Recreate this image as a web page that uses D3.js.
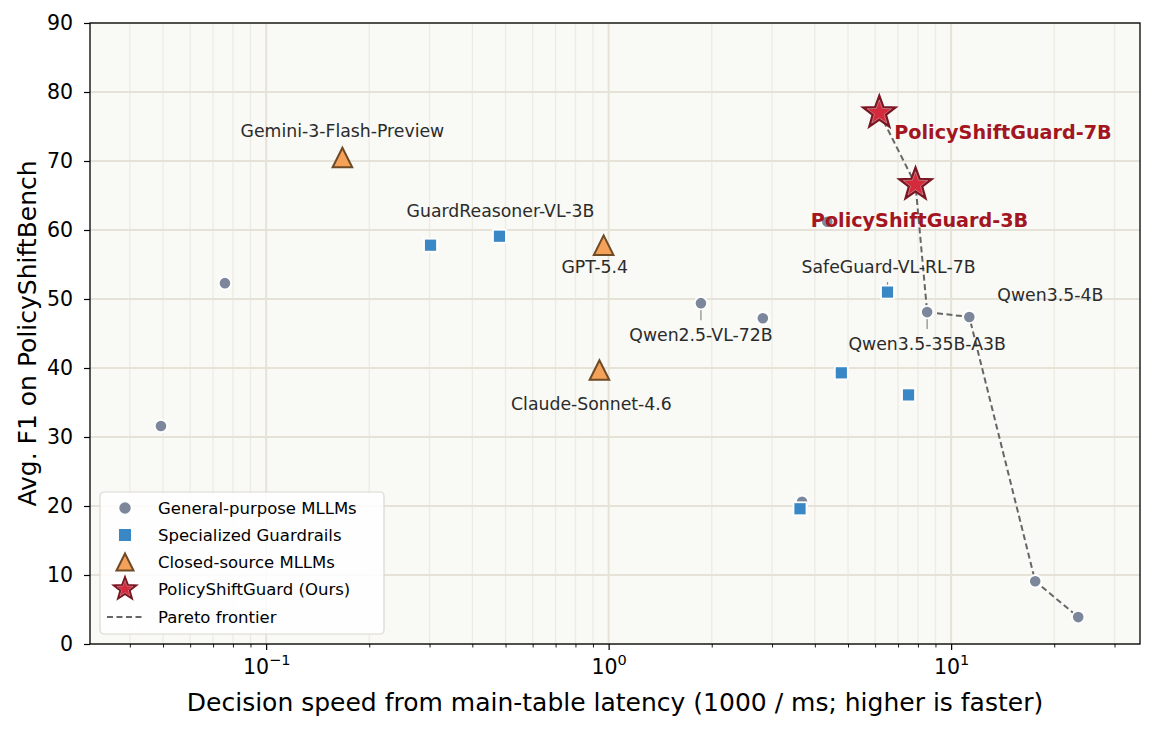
<!DOCTYPE html>
<html>
<head>
<meta charset="utf-8">
<script src="https://cdn.jsdelivr.net/npm/d3@7"></script>
<style>
  html, body { margin: 0; padding: 0; background: #ffffff; }
  svg { display: block; font-family: "DejaVu Sans", sans-serif; }
</style>
</head>
<body>
<svg id="chart" width="1158" height="729"></svg>
<script>
// ---------------- DATA ----------------
const generalNames = ["", "", "Qwen2.5-VL-72B", "", "", "", "Qwen3.5-35B-A3B", "Qwen3.5-4B", "", ""];
const generalSpeed = [0.0493, 0.0758, 1.86, 2.82, 4.35, 3.67, 8.51, 11.3, 17.6, 23.5];
const generalF1    = [31.6, 52.3, 49.4, 47.2, 61.2, 20.6, 48.1, 47.4, 9.1, 3.9];

const guardNames = ["", "GuardReasoner-VL-3B", "SafeGuard-VL-RL-7B", "", "", ""];
const guardSpeed = [0.302, 0.48, 6.52, 4.78, 7.51, 3.62];
const guardF1    = [57.8, 59.1, 51.0, 39.3, 36.1, 19.6];

const closedNames = ["Gemini-3-Flash-Preview", "GPT-5.4", "Claude-Sonnet-4.6"];
const closedSpeed = [0.167, 0.967, 0.94];
const closedF1    = [70.5, 57.8, 39.7];

const oursNames = ["PolicyShiftGuard-7B", "PolicyShiftGuard-3B"];
const oursSpeed = [6.17, 7.87];
const oursF1    = [77.0, 66.6];

const paretoSpeed = [6.17, 7.87, 8.51, 11.3, 17.6, 23.5];
const paretoF1    = [77.0, 66.6, 48.1, 47.4, 9.1, 3.9];

const yTicks = [0, 10, 20, 30, 40, 50, 60, 70, 80, 90];
const xMajorTicks = [0.1, 1, 10];
const xMajorExp = ["\u22121", "0", "1"];
const xDomain = [0.0306, 35.6];
const yDomain = [0, 90];

const legendLabels = ["General-purpose MLLMs", "Specialized Guardrails", "Closed-source MLLMs", "PolicyShiftGuard (Ours)", "Pareto frontier"];

// ---------------- LAYOUT ----------------
const W = 1158, H = 729;
const M = { left: 90, right: 1140, top: 23, bottom: 644 };

const svg = d3.select("#chart");
const x = d3.scaleLog().domain(xDomain).range([M.left, M.right]);
const y = d3.scaleLinear().domain(yDomain).range([M.bottom, M.top]);

const COL = {
  bg: "#f9f9f5",
  grid: "#e6e2d8",
  gridMinor: "#eeebe3",
  gray: "#7c879b",
  blue: "#3a87c5",
  orange: "#f4a15a",
  orangeEdge: "#6e4a25",
  star: "#d42a3c",
  starEdge: "#7a1522",
  oursText: "#a3151f",
  text: "#2b2b2b",
  frontier: "#666666"
};

svg.append("rect").attr("x", M.left).attr("y", M.top)
  .attr("width", M.right - M.left).attr("height", M.bottom - M.top)
  .attr("fill", COL.bg);

const minorTicks = [];
for (let e = -2; e <= 1; e++) {
  for (let k = 2; k <= 9; k++) {
    const v = k * Math.pow(10, e);
    if (v >= xDomain[0] && v <= xDomain[1]) minorTicks.push(v);
  }
}

const grid = svg.append("g");
grid.selectAll("line.xminor").data(minorTicks).join("line")
  .attr("x1", d => x(d)).attr("x2", d => x(d))
  .attr("y1", M.top).attr("y2", M.bottom)
  .attr("stroke", COL.gridMinor).attr("stroke-width", 1.3);
grid.selectAll("line.xmajor").data(xMajorTicks).join("line")
  .attr("x1", d => x(d)).attr("x2", d => x(d))
  .attr("y1", M.top).attr("y2", M.bottom)
  .attr("stroke", COL.grid).attr("stroke-width", 2);
grid.selectAll("line.ymajor").data(yTicks).join("line")
  .attr("x1", M.left).attr("x2", M.right)
  .attr("y1", d => y(d)).attr("y2", d => y(d))
  .attr("stroke", COL.grid).attr("stroke-width", 2);

// ---------------- AXES ----------------
const xAxis = d3.axisBottom(x).tickValues(xMajorTicks).tickSize(6).tickFormat("");
const gx = svg.append("g").attr("transform", `translate(0,${M.bottom})`).call(xAxis);
gx.select(".domain").remove();
gx.selectAll("line").attr("stroke", "#000").attr("stroke-width", 1.2);
const xMinorAxis = d3.axisBottom(x).tickValues(minorTicks).tickSize(3.5).tickFormat("");
const gxm = svg.append("g").attr("transform", `translate(0,${M.bottom})`).call(xMinorAxis);
gxm.select(".domain").remove();
gxm.selectAll("line").attr("stroke", "#000").attr("stroke-width", 0.9);

gx.selectAll(".tick").each(function(d, i) {
  const t = d3.select(this).append("text")
    .attr("y", 30).attr("fill", "#000").attr("text-anchor", "middle")
    .style("font-size", "20.5px").style("font-family", "DejaVu Sans");
  t.append("tspan").text("10");
  t.append("tspan").attr("dy", -9).style("font-size", "14.5px").text(xMajorExp[i]);
});

const yAxis = d3.axisLeft(y).tickValues(yTicks).tickSize(6).tickPadding(11).tickFormat(d3.format("d"));
const gy = svg.append("g").attr("transform", `translate(${M.left},0)`).call(yAxis);
gy.select(".domain").remove();
gy.selectAll("line").attr("stroke", "#000").attr("stroke-width", 1.2);
gy.selectAll("text").attr("fill", "#000").style("font-size", "20.5px").style("font-family", "DejaVu Sans");

svg.append("text")
  .attr("x", (M.left + M.right) / 2).attr("y", 711)
  .attr("text-anchor", "middle").attr("fill", "#000")
  .style("font-size", "25px")
  .text("Decision speed from main-table latency (1000 / ms; higher is faster)");
svg.append("text")
  .attr("transform", `translate(36,${(M.top + M.bottom) / 2}) rotate(-90)`)
  .attr("text-anchor", "middle").attr("fill", "#000")
  .style("font-size", "25px")
  .text("Avg. F1 on PolicyShiftBench");

// ---------------- MARKS ----------------
const plot = svg.append("g");

const general = generalSpeed.map((s, i) => ({ s, f: generalF1[i], name: generalNames[i] }));
const guard = guardSpeed.map((s, i) => ({ s, f: guardF1[i], name: guardNames[i] }));
const closed = closedSpeed.map((s, i) => ({ s, f: closedF1[i], name: closedNames[i] }));
const ours = oursSpeed.map((s, i) => ({ s, f: oursF1[i], name: oursNames[i] }));
const pareto = paretoSpeed.map((s, i) => ({ s, f: paretoF1[i] }));

const lineGen = d3.line().x(d => x(d.s)).y(d => y(d.f));
plot.append("path").datum(pareto).attr("d", lineGen)
  .attr("fill", "none").attr("stroke", COL.frontier)
  .attr("stroke-width", 2).attr("stroke-dasharray", "6,3.5");

const leaders = [
  { s: generalSpeed[2], f: generalF1[2], dy1: 0, dy2: 17 },
  { s: generalSpeed[6], f: generalF1[6], dy1: 0, dy2: 17 },
  { s: guardSpeed[2], f: guardF1[2], dy1: -10, dy2: 0 }
];
plot.selectAll("line.leader").data(leaders).join("line")
  .attr("x1", d => x(d.s)).attr("x2", d => x(d.s))
  .attr("y1", d => y(d.f) + d.dy1).attr("y2", d => y(d.f) + d.dy2)
  .attr("stroke", "#888").attr("stroke-width", 1.2);

plot.selectAll("circle.gen").data(general).join("circle")
  .attr("cx", d => x(d.s)).attr("cy", d => y(d.f)).attr("r", 6.2)
  .attr("fill", COL.gray).attr("stroke", "#ffffff").attr("stroke-width", 1.8);

const sq = 13;
plot.selectAll("rect.guard").data(guard).join("rect")
  .attr("x", d => x(d.s) - sq / 2).attr("y", d => y(d.f) - sq / 2)
  .attr("width", sq).attr("height", sq)
  .attr("fill", COL.blue).attr("stroke", "#ffffff").attr("stroke-width", 1.8);

function triPath(cx, cy, r) {
  return `M${cx},${cy - r}L${cx - r},${cy + r}L${cx + r},${cy + r}Z`;
}
plot.selectAll("path.closed").data(closed).join("path")
  .attr("d", d => triPath(x(d.s), y(d.f), 9.8))
  .attr("fill", COL.orange).attr("stroke", COL.orangeEdge).attr("stroke-width", 2);

function starPath(cx, cy, R, r) {
  const pts = [];
  for (let i = 0; i < 10; i++) {
    const ang = -Math.PI / 2 + i * Math.PI / 5;
    const rad = i % 2 === 0 ? R : r;
    pts.push([cx + rad * Math.cos(ang), cy + rad * Math.sin(ang)]);
  }
  return "M" + pts.map(p => p.join(",")).join("L") + "Z";
}
plot.selectAll("path.ours").data(ours).join("path")
  .attr("d", d => starPath(x(d.s), y(d.f), 16.5, 6.8))
  .attr("fill", COL.star).attr("stroke", COL.starEdge).attr("stroke-width", 2.6)
  .attr("stroke-linejoin", "miter");
plot.selectAll("path.oursInner").data(ours).join("path")
  .attr("d", d => starPath(x(d.s), y(d.f), 12.8, 5.3))
  .attr("fill", "none").attr("stroke", "#ffffff").attr("stroke-width", 0.6)
  .attr("stroke-opacity", 0.6);

// ---------------- ANNOTATIONS ----------------
const annos = [
  { s: closedSpeed[0], f: closedF1[0], text: closedNames[0], dx: 0, dy: -27 },
  { s: guardSpeed[1], f: guardF1[1], text: guardNames[1], dx: 1, dy: -25 },
  { s: closedSpeed[1], f: closedF1[1], text: closedNames[1], dx: -9, dy: 22 },
  { s: closedSpeed[2], f: closedF1[2], text: closedNames[2], dx: -8, dy: 34 },
  { s: generalSpeed[2], f: generalF1[2], text: generalNames[2], dx: 0, dy: 32 },
  { s: guardSpeed[2], f: guardF1[2], text: guardNames[2], dx: 1, dy: -25 },
  { s: generalSpeed[6], f: generalF1[6], text: generalNames[6], dx: 0, dy: 32 },
  { s: generalSpeed[7], f: generalF1[7], text: generalNames[7], dx: 81, dy: -22 }
];
plot.selectAll("text.anno").data(annos).join("text")
  .attr("x", d => x(d.s) + d.dx).attr("y", d => y(d.f) + d.dy)
  .attr("text-anchor", "middle").attr("dominant-baseline", "central")
  .attr("fill", COL.text).style("font-size", "17.3px")
  .text(d => d.text);

const oursAnnos = [
  { s: oursSpeed[0], f: oursF1[0], text: oursNames[0], dx: 15, dy: 20, anchor: "start" },
  { s: oursSpeed[1], f: oursF1[1], text: oursNames[1], dx: 4, dy: 36, anchor: "middle" }
];
plot.selectAll("text.oursAnno").data(oursAnnos).join("text")
  .attr("x", d => x(d.s) + d.dx).attr("y", d => y(d.f) + d.dy)
  .attr("text-anchor", d => d.anchor).attr("dominant-baseline", "central")
  .attr("fill", COL.oursText).style("font-size", "19.2px").style("font-weight", "bold")
  .text(d => d.text);

svg.append("rect").attr("x", M.left).attr("y", M.top)
  .attr("width", M.right - M.left).attr("height", M.bottom - M.top)
  .attr("fill", "none").attr("stroke", "#000").attr("stroke-width", 1.3);

// ---------------- LEGEND ----------------
const lg = svg.append("g").attr("transform", "translate(100,492)");
lg.append("rect").attr("x", 0).attr("y", 0).attr("width", 284).attr("height", 142)
  .attr("rx", 4).attr("fill", "#ffffff").attr("fill-opacity", 0.85)
  .attr("stroke", "#dcd8cf").attr("stroke-width", 1.2);
const rowY = [16, 43, 70, 97, 125];
const mx = 25, tx = 58;
lg.append("circle").attr("cx", mx).attr("cy", rowY[0]).attr("r", 5.7)
  .attr("fill", COL.gray);
lg.append("rect").attr("x", mx - 6).attr("y", rowY[1] - 6).attr("width", 12).attr("height", 12)
  .attr("fill", COL.blue);
lg.append("path").attr("d", triPath(mx, rowY[2], 8.5))
  .attr("fill", COL.orange).attr("stroke", COL.orangeEdge).attr("stroke-width", 2);
lg.append("path").attr("d", starPath(mx, rowY[3], 11.5, 4.8))
  .attr("fill", COL.star).attr("stroke", COL.starEdge).attr("stroke-width", 2.2);
lg.append("path").attr("d", starPath(mx, rowY[3], 8.5, 3.5))
  .attr("fill", "none").attr("stroke", "#fff").attr("stroke-width", 0.5).attr("stroke-opacity", 0.6);
lg.append("line").attr("x1", mx - 18).attr("x2", mx + 18).attr("y1", rowY[4]).attr("y2", rowY[4])
  .attr("stroke", COL.frontier).attr("stroke-width", 2).attr("stroke-dasharray", "6,3.5");
lg.selectAll("text").data(legendLabels).join("text")
  .attr("x", tx).attr("y", (d, i) => rowY[i])
  .attr("dominant-baseline", "central").attr("fill", "#000")
  .style("font-size", "16.5px").text(d => d);
</script>
</body>
</html>
